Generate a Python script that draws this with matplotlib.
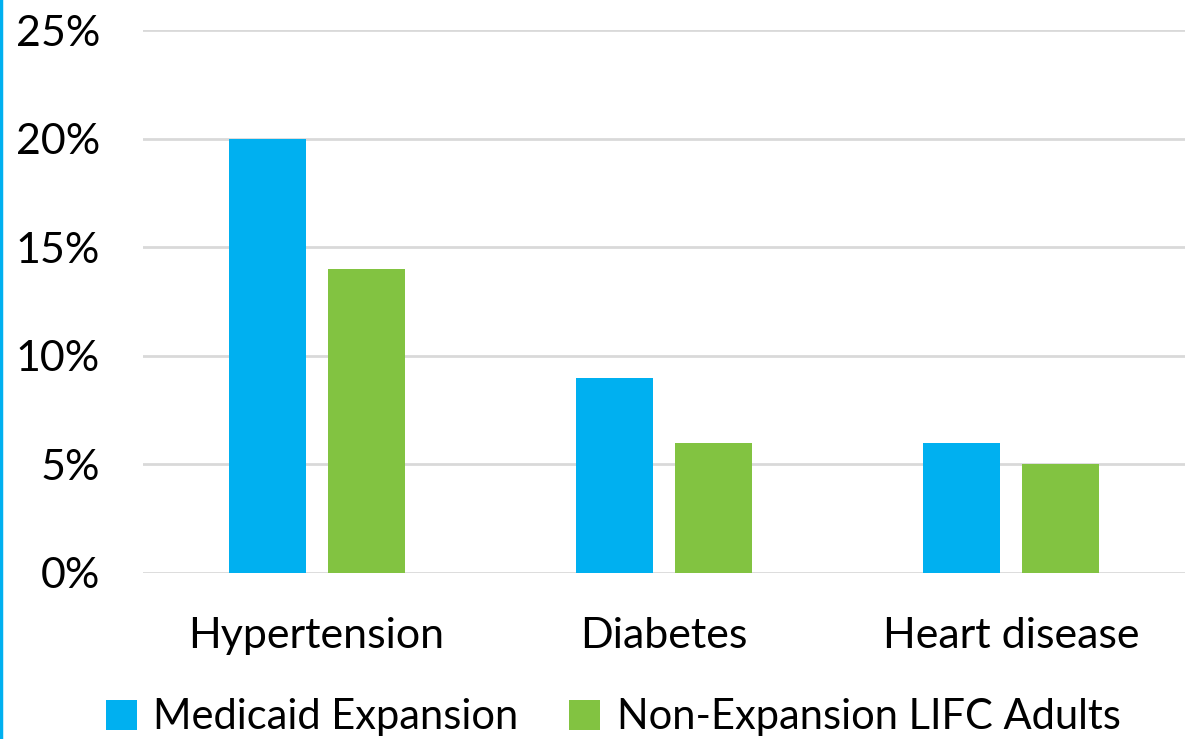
import matplotlib.pyplot as plt
from matplotlib.lines import Line2D
import numpy as np

plt.rcParams['font.family'] = ['Lato', 'DejaVu Sans']

categories = ['Hypertension', 'Diabetes', 'Heart disease']
expansion = [20, 9, 6]
non_expansion = [14, 6, 5]
yticks = [0, 5, 10, 15, 20, 25]
series_names = ['Medicaid Expansion', 'Non-Expansion LIFC Adults']
blue = '#00B0F0'
green = '#82C341'

fig = plt.figure(figsize=(11.89, 7.39), dpi=100)
ax = fig.add_axes([143 / 1189, 1 - 573 / 739, (1185 - 143) / 1189, (573 - 30) / 739])

x = np.arange(len(categories))
w = 0.222
off = 0.1425
ax.bar(x - off, expansion, w, color=blue, label=series_names[0], zorder=3)
ax.bar(x + off, non_expansion, w, color=green, label=series_names[1], zorder=3)

ax.set_xlim(-0.5, len(categories) - 0.5)
ax.set_ylim(0, 25)
ax.set_yticks(yticks)
ax.set_yticklabels([f'{t}%' for t in yticks])
ax.set_xticks(x)
ax.set_xticklabels(categories)
ax.tick_params(axis='both', length=0, labelsize=31, colors='black')
ax.tick_params(axis='y', pad=31)
ax.tick_params(axis='x', pad=32)
ax.grid(axis='y', color='#D9D9D9', linewidth=2, zorder=0)
for s in ax.spines.values():
    s.set_visible(False)

ax.legend(loc='lower center', bbox_to_anchor=(0.5 - 51 / 1042, -0.37), ncol=2,
          frameon=False, fontsize=30, handlelength=0.75, handleheight=0.75,
          handletextpad=0.4, columnspacing=1.2)

# thin blue border on the left edge
fig.add_artist(Line2D([0.001, 0.001], [0, 1], color=blue, linewidth=2.5,
                      transform=fig.transFigure))

fig.savefig('out.png', dpi=100)
